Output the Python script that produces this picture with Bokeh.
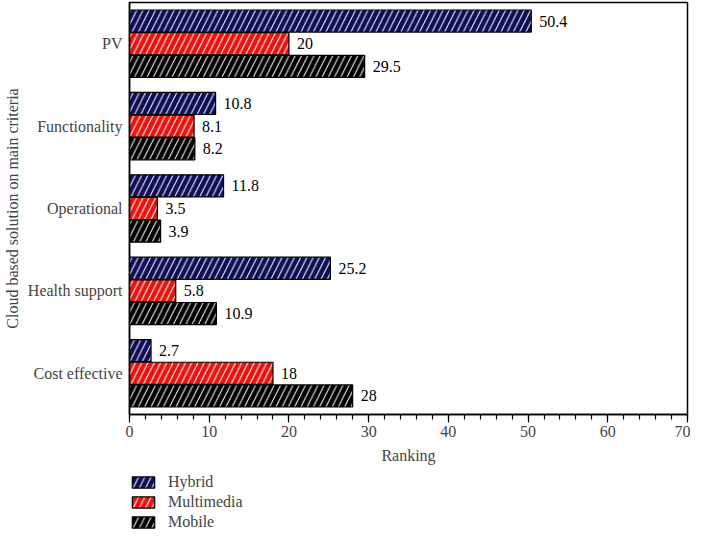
from bokeh.plotting import figure
from bokeh.layouts import column
from bokeh.models import Range1d, FixedTicker, Legend, LegendItem, ColumnDataSource
from bokeh.embed import file_html
from bokeh.resources import INLINE
from bokeh.core.properties import value

categories = ["PV", "Functionality", "Operational", "Health support", "Cost effective"]
series_names = ["Hybrid", "Multimedia", "Mobile"]
hybrid = [50.4, 10.8, 11.8, 25.2, 2.7]
multimedia = [20, 8.1, 3.5, 5.8, 18]
mobile = [29.5, 8.2, 3.9, 10.9, 28]
x_ticks = [0, 10, 20, 30, 40, 50, 60, 70]

series_values = [hybrid, multimedia, mobile]
colors = ["#0f0f57", "#e8140f", "#000000"]
offsets = [0.275, 0.0, -0.275]
FONT = "Liberation Serif"
FS = "16px"
HATCH = dict(hatch_pattern="right_diagonal_line", hatch_color="white",
             hatch_scale=12.5, hatch_weight=1.0)

n = len(categories)
p = figure(width=690, height=466, output_backend="svg", toolbar_location=None,
           x_range=Range1d(0, 70), y_range=Range1d(-0.5, n - 0.5),
           min_border_left=122, min_border_right=3, min_border_top=2,
           min_border_bottom=10)

p.grid.visible = False
p.outline_line_color = "black"
p.outline_line_width = 1.5
p.background_fill_color = "white"

for name, vals, col, off in zip(series_names, series_values, colors, offsets):
    src = ColumnDataSource(dict(
        y=[n - 1 - i + off for i in range(n)],
        x=vals,
        lbl=[f"{v:g}" for v in vals],
    ))
    p.hbar(y="y", right="x", left=0, height=0.268, source=src,
           fill_color=col, line_color="black", line_width=1.2, **HATCH)
    p.text(x="x", y="y", text="lbl", source=src, x_offset=8,
           text_baseline="middle", text_align="left",
           text_font=value(FONT), text_font_size=FS, text_color="black")

# x axis
xa = p.xaxis[0]
xa.ticker = FixedTicker(ticks=x_ticks, minor_ticks=list(range(0, 71, 2)))
xa.axis_label = "Ranking"
xa.axis_label_text_font = FONT
xa.axis_label_text_font_style = "normal"
xa.axis_label_text_font_size = FS
xa.axis_label_standoff = 7
xa.major_label_text_font = FONT
xa.major_label_text_font_size = FS
xa.major_tick_in = 0
xa.major_tick_out = 8
xa.minor_tick_in = 0
xa.minor_tick_out = 5
xa.axis_line_width = 1.5
xa.major_tick_line_width = 1.2
xa.minor_tick_line_width = 1.2
xa.major_label_standoff = 3

# y axis
ya = p.yaxis[0]
ya.ticker = FixedTicker(ticks=list(range(n)), minor_ticks=[])
ya.major_label_overrides = {n - 1 - i: c for i, c in enumerate(categories)}
ya.axis_label = "Cloud based solution on main criteria"
ya.axis_label_text_font = FONT
ya.axis_label_text_font_style = "normal"
ya.axis_label_text_font_size = FS
ya.axis_label_standoff = 4
ya.major_label_text_font = FONT
ya.major_label_text_font_size = FS
ya.major_tick_in = 0
ya.major_tick_out = 0
ya.minor_tick_in = 0
ya.minor_tick_out = 0
ya.axis_line_width = 1.5
ya.major_label_standoff = 7

# legend figure (below the chart); its renderers hold off-range data only
lg = figure(width=690, height=65, output_backend="svg", toolbar_location=None,
            x_range=Range1d(0, 1), y_range=Range1d(0, 1),
            x_axis_location=None, y_axis_location=None,
            min_border_left=121, min_border_right=0, min_border_top=0,
            min_border_bottom=0, outline_line_color=None)
lg.grid.visible = False
items = []
for name, col in zip(series_names, colors):
    r = lg.hbar(y=[-50], right=[-50], left=-51, height=0.1, fill_color=col,
                line_color="black", line_width=1.2, **HATCH)
    items.append(LegendItem(label=name, renderers=[r]))
legend = Legend(items=items, location="bottom_left", orientation="vertical",
                label_text_font=FONT, label_text_font_size=FS,
                glyph_width=28, glyph_height=14, label_standoff=11,
                spacing=2, padding=0, margin=0,
                border_line_color=None, background_fill_alpha=0)
lg.add_layout(legend, "center")

layout = column(p, lg, spacing=0)
open("out.html", "w").write(file_html(layout, INLINE))
